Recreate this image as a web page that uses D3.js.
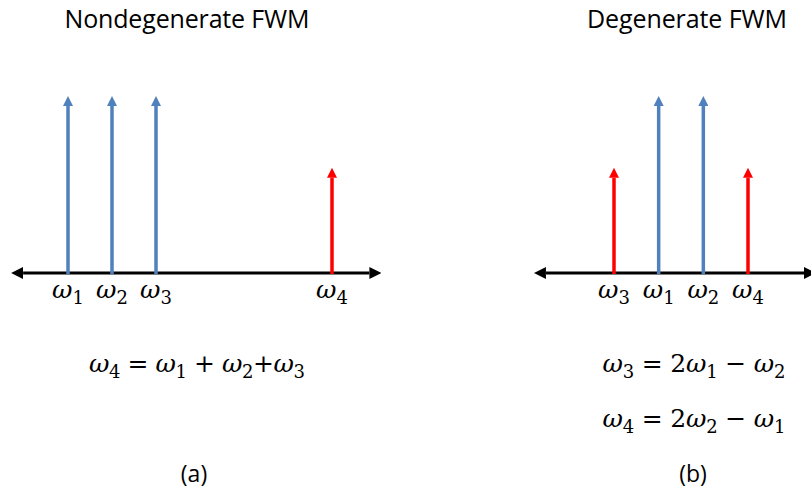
<!DOCTYPE html>
<html>
<head>
<meta charset="utf-8">
<script src="https://cdn.jsdelivr.net/npm/d3@7"></script>
<style>
  body { margin: 0; background: #fff; }
  svg { display: block; }
  .title { font-family: "Open Sans", sans-serif; font-size: 25px; fill: #000; }
  .math { font-family: "DejaVu Serif", serif; font-size: 25px; fill: #000; }
  .caption { font-family: "Open Sans", sans-serif; font-size: 23px; fill: #000; }
</style>
</head>
<body>
<script>
// panel (a): nondegenerate
const leftFreqs = [1, 2, 3, 7];
const leftAmps = [1, 1, 1, 0.57];
const leftKinds = ['pump', 'pump', 'pump', 'idler'];
const leftSubs = ['1', '2', '3', '4'];

// panel (b): degenerate
const rightFreqs = [0, 1, 2, 3];
const rightAmps = [0.57, 1, 1, 0.57];
const rightKinds = ['idler', 'pump', 'pump', 'idler'];
const rightSubs = ['3', '1', '2', '4'];

const colors = { pump: '#4f81bd', idler: '#ff0000' };

const width = 811, height = 492;
const axisY = 273;

const svg = d3.select('body').append('svg')
  .attr('width', width)
  .attr('height', height);

const defs = svg.append('defs');
function addMarker(id, color, w, h) {
  defs.append('marker')
    .attr('id', id)
    .attr('viewBox', `0 0 ${h} ${w}`)
    .attr('refX', 0)
    .attr('refY', w / 2)
    .attr('markerUnits', 'userSpaceOnUse')
    .attr('markerWidth', h)
    .attr('markerHeight', w)
    .attr('orient', 'auto-start-reverse')
    .append('path')
    .attr('d', `M0,0 L${h},${w / 2} L0,${w} Z`)
    .attr('fill', color);
}
addMarker('head-pump', colors.pump, 10, 10);
addMarker('head-idler', colors.idler, 10, 10);
addMarker('head-axis', '#000', 12, 12);

const yScale = d3.scaleLinear().domain([0, 1]).range([axisY, 106]);

function drawPanel(freqs, amps, kinds, subs, x, axisFrom, axisTo) {
  const g = svg.append('g');

  g.append('line')
    .attr('x1', x(axisFrom) + 11).attr('x2', x(axisTo) - 11)
    .attr('y1', axisY).attr('y2', axisY)
    .attr('stroke', '#000')
    .attr('stroke-width', 3)
    .attr('marker-start', 'url(#head-axis)')
    .attr('marker-end', 'url(#head-axis)');

  const idx = d3.range(freqs.length);

  g.selectAll('.stem')
    .data(idx)
    .enter().append('line')
    .attr('class', 'stem')
    .attr('x1', i => x(freqs[i])).attr('x2', i => x(freqs[i]))
    .attr('y1', axisY + 1)
    .attr('y2', i => yScale(amps[i]))
    .attr('stroke', i => colors[kinds[i]])
    .attr('stroke-width', 3.5)
    .attr('marker-end', i => `url(#head-${kinds[i]})`);

  const lab = g.selectAll('.lab')
    .data(idx)
    .enter().append('text')
    .attr('class', 'math')
    .attr('x', i => x(freqs[i]))
    .attr('y', 298)
    .attr('text-anchor', 'middle');
  lab.append('tspan').attr('font-style', 'italic').text('ω');
  lab.append('tspan').attr('font-size', '18px').attr('dy', 6).text(i => subs[i]);
}

const xLeft = d3.scaleLinear().domain([1, 7]).range([68, 332]);
drawPanel(leftFreqs, leftAmps, leftKinds, leftSubs, xLeft, -0.27, 8.1);

const xRight = d3.scaleLinear().domain([0, 3]).range([614, 748]);
drawPanel(rightFreqs, rightAmps, rightKinds, rightSubs, xRight, -1.77, 4.5);

// titles
svg.append('text').attr('class', 'title').attr('x', 187).attr('y', 28)
  .attr('text-anchor', 'middle').attr('textLength', 245).text('Nondegenerate FWM');
svg.append('text').attr('class', 'title').attr('x', 687).attr('y', 28)
  .attr('text-anchor', 'middle').attr('textLength', 200).text('Degenerate FWM');

// equations: pieces of [text, kind]; 'i' italic, 's' subscript
function equation(x, y, w, parts) {
  const t = svg.append('text').attr('class', 'math').attr('x', x).attr('y', y)
    .attr('text-anchor', 'middle').attr('textLength', w).attr('lengthAdjust', 'spacing');
  let shifted = false;
  parts.forEach(([s, kind]) => {
    const sp = t.append('tspan').text(s);
    if (kind === 'i') sp.attr('font-style', 'italic');
    if (kind === 's') { sp.attr('font-size', '18px').attr('dy', 6); shifted = true; }
    else if (shifted) { sp.attr('dy', -6); shifted = false; }
  });
}

equation(197, 372, 216, [['ω', 'i'], ['4', 's'], [' = ', ''], ['ω', 'i'], ['1', 's'], [' + ', ''], ['ω', 'i'], ['2', 's'], ['+', ''], ['ω', 'i'], ['3', 's']]);
equation(694, 372, 183, [['ω', 'i'], ['3', 's'], [' = 2', ''], ['ω', 'i'], ['1', 's'], [' − ', ''], ['ω', 'i'], ['2', 's']]);
equation(694, 427, 183, [['ω', 'i'], ['4', 's'], [' = 2', ''], ['ω', 'i'], ['2', 's'], [' − ', ''], ['ω', 'i'], ['1', 's']]);

// captions
svg.append('text').attr('class', 'caption').attr('x', 194).attr('y', 482)
  .attr('text-anchor', 'middle').text('(a)');
svg.append('text').attr('class', 'caption').attr('x', 693).attr('y', 482)
  .attr('text-anchor', 'middle').text('(b)');
</script>
</body>
</html>
